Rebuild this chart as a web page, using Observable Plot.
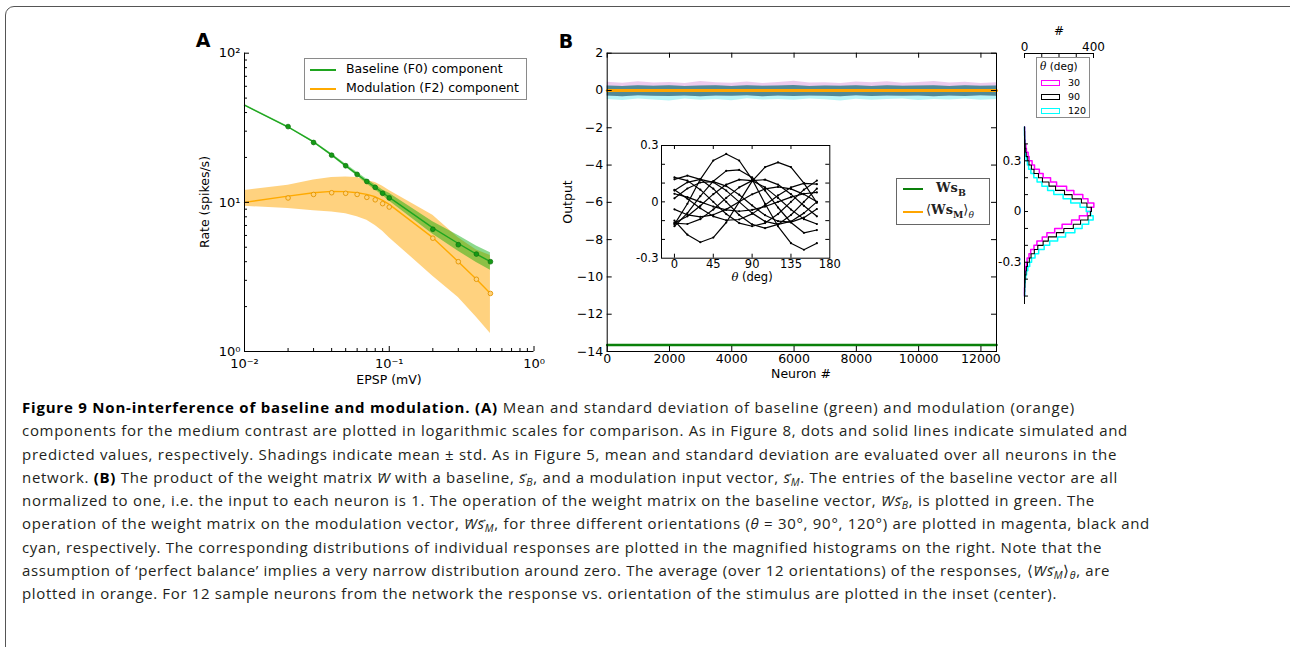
<!DOCTYPE html>
<html><head><meta charset="utf-8">
<script src="https://cdn.jsdelivr.net/npm/d3@7"></script>
<script src="https://cdn.jsdelivr.net/npm/@observablehq/plot@0.6"></script>
<style>
html,body{margin:0;padding:0;background:#fff;}
#fig{position:relative;width:1290px;height:647px;overflow:hidden;background:#fff;font-family:"DejaVu Sans",sans-serif;color:#000;}
#border{position:absolute;left:5px;top:6px;width:1320px;height:720px;border:1.6px solid #555;border-radius:9px;box-sizing:border-box;}
.abs{position:absolute;white-space:nowrap;}
.lbl{position:absolute;white-space:nowrap;transform:translate(-50%,-50%);font-size:12.5px;line-height:1;}
.pl{position:absolute;font-weight:bold;font-size:19px;line-height:1;transform:translate(-50%,-50%);}
.svgp{position:absolute;}
.box{position:absolute;border:1px solid #8a8a8a;background:#fff;box-sizing:border-box;}
.sw{position:absolute;height:0;}
#caption{position:absolute;left:22px;top:396px;font-family:"Open Sans",sans-serif;font-size:15px;line-height:23.25px;color:#231f20;}
.cl{display:block;white-space:nowrap;width:max-content;}
.cl b{color:#000;}
.v{position:relative;font-style:italic;}
.v::after{content:"\2192";position:absolute;left:0.08em;top:-0.62em;font-size:0.62em;font-style:normal;}
.cl sub{font-size:0.7em;vertical-align:-0.3em;line-height:0;}
.ser{font-family:"DejaVu Serif",serif;}
</style></head><body>
<div id="fig">
  <div id="border"></div>
  <div class="pl" style="left:203px;top:40px;">A</div>
  <div class="pl" style="left:566px;top:41px;">B</div>
  <div id="pA" class="svgp" style="left:180px;top:30px;"></div>
  <div id="pB" class="svgp" style="left:550px;top:30px;"></div>
  <div id="pIn" class="svgp" style="left:620px;top:130px;"></div>
  <div id="pHtop" class="svgp" style="left:990px;top:0px;"></div>
  <div id="pH" class="svgp" style="left:990px;top:20px;"></div>

  <div class="lbl" style="left:205px;top:202px;transform:translate(-50%,-50%) rotate(-90deg);">Rate (spikes/s)</div>
  <div class="lbl" style="left:389px;top:380px;">EPSP (mV)</div>
  <div class="lbl" style="left:568px;top:202px;transform:translate(-50%,-50%) rotate(-90deg);">Output</div>
  <div class="lbl" style="left:801px;top:374px;">Neuron #</div>
  <div class="lbl" style="left:752px;top:278px;font-size:11.5px;"><i class="ser">θ</i> (deg)</div>
  <div class="lbl" style="left:1059px;top:31px;font-size:12px;">#</div>

  <!-- legend A -->
  <div class="box" style="left:304px;top:58px;width:223px;height:42px;"></div>
  <div class="sw" style="left:310px;top:68.5px;width:26px;border-top:2px solid #1fa51f;"></div>
  <div class="sw" style="left:310px;top:87.5px;width:26px;border-top:2px solid #ffaa00;"></div>
  <div class="abs" style="left:346px;top:62px;font-size:12.5px;line-height:14px;">Baseline (F0) component</div>
  <div class="abs" style="left:346px;top:81px;font-size:12.5px;line-height:14px;">Modulation (F2) component</div>

  <!-- legend B -->
  <div class="box" style="left:896px;top:178px;width:94px;height:47px;border-color:#666;"></div>
  <div class="sw" style="left:903px;top:188px;width:20px;border-top:2.5px solid #0a800a;"></div>
  <div class="sw" style="left:903px;top:210.5px;width:20px;border-top:2.5px solid #ffa500;"></div>
  <div class="abs ser" style="left:936px;top:181px;font-size:13px;line-height:14px;color:#222;"><b>Ws<sub style="font-size:0.72em;">B</sub></b></div>
  <div class="abs ser" style="left:926px;top:203px;font-size:13px;line-height:14px;color:#222;">⟨<b>Ws<sub style="font-size:0.72em;">M</sub></b>⟩<sub style="font-size:0.7em;"><i>θ</i></sub></div>

  <!-- legend histogram -->
  <div class="box" style="left:1036px;top:57px;width:54px;height:61px;"></div>
  <div class="abs" style="left:1040px;top:60px;font-size:10.5px;line-height:13px;"><i class="ser">θ</i> (deg)</div>
  <div class="abs" style="left:1041px;top:79.5px;width:19px;height:6px;border:1.4px solid #ff00ff;box-sizing:border-box;"></div>
  <div class="abs" style="left:1041px;top:94px;width:19px;height:6px;border:1.4px solid #000;box-sizing:border-box;"></div>
  <div class="abs" style="left:1041px;top:108px;width:19px;height:6px;border:1.4px solid #00ffff;box-sizing:border-box;"></div>
  <div class="abs" style="left:1068px;top:77px;font-size:9.5px;line-height:12px;">30</div>
  <div class="abs" style="left:1068px;top:91px;font-size:9.5px;line-height:12px;">90</div>
  <div class="abs" style="left:1068px;top:105px;font-size:9.5px;line-height:12px;">120</div>

  <div id="caption">
    <div class="cl"><b>Figure 9 Non-interference of baseline and modulation. (A)</b> Mean and standard deviation of baseline (green) and modulation (orange)</div>
    <div class="cl">components for the medium contrast are plotted in logarithmic scales for comparison. As in Figure 8, dots and solid lines indicate simulated and</div>
    <div class="cl">predicted values, respectively. Shadings indicate mean ± std. As in Figure 5, mean and standard deviation are evaluated over all neurons in the</div>
    <div class="cl">network. <b>(B)</b> The product of the weight matrix <span class="v">W</span> with a baseline, <span class="v">s</span><sub><i>B</i></sub>, and a modulation input vector, <span class="v">s</span><sub><i>M</i></sub>. The entries of the baseline vector are all</div>
    <div class="cl">normalized to one, i.e. the input to each neuron is 1. The operation of the weight matrix on the baseline vector, <span class="v">W</span><span class="v">s</span><sub><i>B</i></sub>, is plotted in green. The</div>
    <div class="cl">operation of the weight matrix on the modulation vector, <span class="v">W</span><span class="v">s</span><sub><i>M</i></sub>, for three different orientations (<i>θ</i> = 30°, 90°, 120°) are plotted in magenta, black and</div>
    <div class="cl">cyan, respectively. The corresponding distributions of individual responses are plotted in the magnified histograms on the right. Note that the</div>
    <div class="cl">assumption of ‘perfect balance’ implies a very narrow distribution around zero. The average (over 12 orientations) of the responses, ⟨<span class="v">W</span><span class="v">s</span><sub><i>M</i></sub>⟩<sub><i>θ</i></sub>, are</div>
    <div class="cl">plotted in orange. For 12 sample neurons from the network the response vs. orientation of the stimulus are plotted in the inset (center).</div>
  </div>
</div>
<script>
// ---------- Panel A data ----------
const epspPred = [0.01,0.02,0.03,0.04,0.05,0.06,0.07,0.08,0.09,0.1,0.2,0.3,0.4,0.5];
const baselinePred = [44.8,32.0,25.4,20.8,17.6,15.4,13.8,12.6,11.6,10.8,6.75,5.3,4.5,4.0];
const baselineLo = [44.3,31.6,25.0,20.4,17.2,15.0,13.3,12.1,11.1,10.2,6.1,4.7,3.95,3.5];
const baselineHi = [45.3,32.4,25.8,21.2,18.1,15.9,14.3,13.1,12.1,11.5,7.4,6.0,5.1,4.6];
const modPred = [10.0,11.0,11.6,11.85,11.8,11.6,11.3,10.9,10.3,9.7,5.8,4.0,3.05,2.45];
const modLo = [9.4,9.1,8.8,8.6,8.4,8.0,7.6,7.0,6.4,5.8,3.2,2.3,1.7,1.32];
const modHi = [12.0,13.0,14.1,14.7,14.8,14.7,14.0,13.6,12.8,12.0,8.2,5.8,4.8,4.4];
const epspSim = [0.02,0.03,0.04,0.05,0.06,0.07,0.08,0.09,0.1,0.2,0.3,0.4,0.5];
const baselineSim = [32.2,25.2,20.7,17.6,15.4,13.8,12.6,11.5,10.7,6.6,5.2,4.5,4.0];
const modSim = [10.7,11.3,11.6,11.5,11.3,10.8,10.4,9.8,9.3,5.75,4.0,3.05,2.45];
const logTickLabels = {"0.01":"10⁻²","0.1":"10⁻¹","1":"10⁰","10":"10¹","100":"10²"};

// ---------- Panel B data ----------
const neuronTicks = [0,2000,4000,6000,8000,10000,12000];
const outputTicks = [-14,-12,-10,-8,-6,-4,-2,0,2];
const neuronSpan = [0,12500];
const baselineOutput = [-13.65,-13.65];   // W s_B
const meanModOutput = [0.0,0.0];          // <W s_M>_theta
const bandStep = 500;
const bandMagentaHi = [0.44,0.39,0.47,0.40,0.43,0.37,0.48,0.41,0.39,0.46,0.38,0.43,0.50,0.40,0.42,0.38,0.45,0.41,0.47,0.39,0.43,0.48,0.40,0.44,0.38,0.42];
const bandCoreHi = [0.24,0.22,0.26,0.23,0.25,0.21,0.24,0.26,0.22,0.25,0.23,0.24,0.27,0.22,0.24,0.23,0.26,0.21,0.25,0.23,0.24,0.26,0.22,0.25,0.23,0.24];
const bandCoreLo = [-0.30,-0.33,-0.28,-0.31,-0.32,-0.29,-0.34,-0.30,-0.31,-0.28,-0.33,-0.30,-0.32,-0.29,-0.31,-0.33,-0.28,-0.32,-0.30,-0.31,-0.29,-0.33,-0.30,-0.32,-0.28,-0.31];
const bandCyanLo = [-0.48,-0.54,-0.45,-0.51,-0.57,-0.46,-0.52,-0.49,-0.55,-0.44,-0.51,-0.48,-0.53,-0.46,-0.50,-0.56,-0.47,-0.52,-0.49,-0.45,-0.54,-0.48,-0.51,-0.46,-0.53,-0.49];

// ---------- Inset data (12 sample neurons vs orientation) ----------
const thetas = [0,15,30,45,60,75,90,105,120,135,150,165];
const insetNeurons = [
  [-0.12,-0.01,0.12,0.22,0.255,0.22,0.12,-0.01,-0.13,-0.22,-0.255,-0.22],
  [-0.10,-0.175,-0.215,-0.19,-0.11,0.0,0.11,0.185,0.21,0.185,0.10,-0.005],
  [-0.13,-0.06,0.03,0.11,0.165,0.17,0.13,0.06,-0.03,-0.11,-0.165,-0.15],
  [0.12,0.14,0.12,0.07,0.0,-0.07,-0.12,-0.14,-0.12,-0.07,0.0,0.07],
  [0.13,0.113,0.065,0.0,-0.065,-0.113,-0.13,-0.113,-0.065,0.0,0.065,0.113],
  [0.06,0.104,0.12,0.104,0.06,0.0,-0.06,-0.104,-0.12,-0.104,-0.06,0.0],
  [0.064,0.017,-0.034,-0.077,-0.098,-0.094,-0.064,-0.017,0.034,0.077,0.098,0.094],
  [0.043,0.025,0.0,-0.025,-0.043,-0.05,-0.043,-0.025,0.0,0.025,0.043,0.05],
  [-0.04,-0.069,-0.08,-0.069,-0.04,0.0,0.04,0.069,0.08,0.069,0.04,0.0],
  [-0.113,-0.077,-0.021,0.041,0.092,0.118,0.113,0.077,0.021,-0.041,-0.092,-0.118],
  [-0.113,-0.118,-0.092,-0.041,0.021,0.077,0.113,0.118,0.092,0.041,-0.021,-0.077],
  [0.019,0.071,0.103,0.108,0.084,0.038,-0.019,-0.071,-0.103,-0.108,-0.084,-0.038]
];

// ---------- Histogram data (counts per bin, bins of 0.025 from -0.5 to 0.5) ----------
const histBinStart = -0.5, histBinWidth = 0.025;
const histMagenta = [0,0,1,1,2,5,6,11,15,26,36,55,72,103,130,175,218,273,318,364,386,402,368,338,286,244,186,151,108,86,58,44,27,21,11,8,4,2,1,1];
const histBlack   = [0,1,2,3,4,8,11,17,28,38,57,77,108,138,185,228,283,325,368,382,388,362,330,276,232,180,142,104,81,55,40,26,19,10,7,4,2,1,1,0];
const histCyan    = [1,1,2,4,7,12,19,30,41,61,82,114,146,192,238,292,334,372,398,384,358,322,268,224,170,134,101,73,54,37,24,17,10,6,3,2,1,1,0,0];
const histCountTicks = [0,100,200,300,400];
const histValueTicks = [-0.5,-0.4,-0.3,-0.2,-0.1,0,0.1,0.2,0.3,0.4];

const green = "#1fa51f", orange = "#ffaa00";
const baseStyle = {fontFamily:"DejaVu Sans", fontSize:"12.5px", background:"transparent", color:"#000", overflow:"visible"};

// ===== Panel A =====
{
  const W=380,H=370,ml=64,mr=26.5,mt=22.7,mb=49, pw=W-ml-mr, ph=H-mt-mb;
  const pred = epspPred.map((x,i)=>({x,b:baselinePred[i],bLo:baselineLo[i],bHi:baselineHi[i],m:modPred[i],mLo:modLo[i],mHi:modHi[i]}));
  const sim = epspSim.map((x,i)=>({x,b:baselineSim[i],m:modSim[i]}));
  const minorY = [2,3,4,5,6,7,8,9].flatMap(k=>[k,k*10]);
  const minorX = [2,3,4,5,6,7,8,9].flatMap(k=>[k/100,k/10]);
  const p = Plot.plot({
    width:W,height:H,marginLeft:ml,marginRight:mr,marginTop:mt,marginBottom:mb,
    x:{type:"log",domain:[0.01,1]}, y:{type:"log",domain:[1,100]},
    style:{...baseStyle,fontSize:"13px"},
    marks:[
      Plot.areaY(pred,{x:"x",y1:"mLo",y2:"mHi",fill:"#ffa500",fillOpacity:0.5}),
      Plot.areaY(pred,{x:"x",y1:"bLo",y2:"bHi",fill:"#00aa00",fillOpacity:0.45}),
      Plot.line(pred,{x:"x",y:"m",stroke:orange,strokeWidth:1.4}),
      Plot.line(pred,{x:"x",y:"b",stroke:green,strokeWidth:1.4}),
      Plot.dot(sim,{x:"x",y:"m",r:2.3,fill:"#ffd27a",stroke:"#e39400",strokeWidth:0.9}),
      Plot.dot(sim,{x:"x",y:"b",r:2.4,fill:"#159a15",stroke:"#0e700e",strokeWidth:0.7}),
      Plot.ruleX([0.01],{stroke:"#000"}),
      Plot.ruleY([1],{stroke:"#000"}),
      Plot.tickY([1,10,100],{y:d=>d,insetRight:pw-5}),
      Plot.tickY(minorY,{y:d=>d,insetRight:pw-3}),
      Plot.tickX([0.01,0.1,1],{x:d=>d,insetTop:ph-5}),
      Plot.tickX(minorX,{x:d=>d,insetTop:ph-3}),
      Plot.axisY({ticks:[1,10,100],tickSize:0,tickPadding:4,tickFormat:d=>logTickLabels[String(d)],label:null}),
      Plot.axisX({ticks:[0.01,0.1,1],tickSize:0,tickPadding:7,tickFormat:d=>logTickLabels[String(d)],label:null})
    ]
  });
  document.getElementById("pA").appendChild(p);
}

// ===== Panel B =====
{
  const W=470,H=370,ml=56.7,mr=24,mt=22.7,mb=49, pw=W-ml-mr, ph=H-mt-mb;
  const band = bandMagentaHi.map((v,i)=>({x:i*bandStep,up:v,ch:bandCoreHi[i],cl:bandCoreLo[i],lo:bandCyanLo[i]}));
  const baseRows = neuronSpan.map((x,i)=>({x,y:baselineOutput[i]}));
  const avgRows = neuronSpan.map((x,i)=>({x,y:meanModOutput[i]}));
  const p = Plot.plot({
    width:W,height:H,marginLeft:ml,marginRight:mr,marginTop:mt,marginBottom:mb,
    x:{domain:[0,12500]}, y:{domain:[-14,2]},
    style:baseStyle,
    marks:[
      Plot.areaY(band,{x:"x",y1:"lo",y2:"ch",fill:"#33e0e8",fillOpacity:0.35}),
      Plot.areaY(band,{x:"x",y1:"cl",y2:"up",fill:"#c050c0",fillOpacity:0.3}),
      Plot.areaY(band,{x:"x",y1:"cl",y2:"ch",fill:"#3f8088",fillOpacity:0.85}),
      Plot.line(avgRows,{x:"x",y:"y",stroke:"#ffa500",strokeWidth:3}),
      Plot.line(baseRows,{x:"x",y:"y",stroke:"#0a800a",strokeWidth:2.6}),
      Plot.frame({stroke:"#000"}),
      Plot.tickY(outputTicks,{y:d=>d,insetRight:pw-5}),
      Plot.tickY(outputTicks,{y:d=>d,insetLeft:pw-5}),
      Plot.tickX(neuronTicks,{x:d=>d,insetTop:ph-5}),
      Plot.tickX(neuronTicks,{x:d=>d,insetBottom:ph-5}),
      Plot.axisY({ticks:outputTicks,tickSize:0,tickPadding:4,label:null}),
      Plot.axisX({ticks:neuronTicks,tickSize:0,tickPadding:3,tickFormat:d=>String(d),label:null})
    ]
  });
  document.getElementById("pB").appendChild(p);
}

// ===== Inset =====
{
  const W=230,H=160,ml=41,mr=20.7,mt=15,mb=32.3, pw=W-ml-mr, ph=H-mt-mb;
  const rows = insetNeurons.flatMap((vals,k)=>vals.map((v,i)=>({n:k,t:thetas[i],v})));
  const fmt = d => d===0 ? "0" : (d<0?"-":"")+Math.abs(d).toFixed(1);
  const p = Plot.plot({
    width:W,height:H,marginLeft:ml,marginRight:mr,marginTop:mt,marginBottom:mb,
    x:{domain:[-15,180]}, y:{domain:[-0.3,0.3]},
    style:{...baseStyle,fontSize:"11.5px"},
    marks:[
      Plot.line(rows,{x:"t",y:"v",z:"n",stroke:"#000",strokeWidth:1.2}),
      Plot.dot(rows,{x:"t",y:"v",r:1.1,fill:"#000"}),
      Plot.frame({stroke:"#000"}),
      Plot.tickX([0,45,90,135],{x:d=>d,insetTop:ph-4}),
      Plot.tickX([0,45,90,135],{x:d=>d,insetBottom:ph-4}),
      Plot.tickY([-0.2,-0.1,0,0.1,0.2],{y:d=>d,insetRight:pw-4}),
      Plot.tickY([-0.2,-0.1,0,0.1,0.2],{y:d=>d,insetLeft:pw-4}),
      Plot.axisX({ticks:[0,45,90,135,180],tickSize:0,tickPadding:2,tickFormat:d=>String(d),label:null}),
      Plot.axisY({ticks:[-0.3,0,0.3],tickSize:0,tickPadding:3,tickFormat:fmt,label:null})
    ]
  });
  document.getElementById("pIn").appendChild(p);
}

// ===== Histogram top count axis =====
{
  const p = Plot.plot({
    width:120,height:58,marginLeft:34,marginRight:17,marginTop:53,marginBottom:0,
    x:{domain:[0,400]}, y:{domain:[0,1],axis:null},
    style:{...baseStyle,fontSize:"12px"},
    marks:[
      Plot.ruleY([1],{x1:0,x2:400,stroke:"#000"}),
      Plot.ruleX(histCountTicks,{x:d=>d,y1:1,y2:0,stroke:"#000"}),
      Plot.axisX({anchor:"top",ticks:[0,400],tickSize:0,tickPadding:3,tickFormat:d=>String(d),label:null})
    ]
  });
  document.getElementById("pHtop").appendChild(p);
}

// ===== Histograms =====
{
  const W=120,H=300,ml=34,mr=17,mt=106.5,mb=16, pw=W-ml-mr;
  const outline = (counts,name) => {
    const pts=[{s:name,x:0,y:histBinStart}];
    counts.forEach((c,i)=>{
      const e0=histBinStart+i*histBinWidth, e1=e0+histBinWidth;
      pts.push({s:name,x:c,y:e0},{s:name,x:c,y:e1});
    });
    pts.push({s:name,x:0,y:histBinStart+counts.length*histBinWidth});
    return pts;
  };
  const fmt = d => d===0 ? "0" : (d<0?"-":"")+Math.abs(d).toFixed(1);
  const p = Plot.plot({
    width:W,height:H,marginLeft:ml,marginRight:mr,marginTop:mt,marginBottom:mb,
    x:{domain:[0,400],axis:null}, y:{domain:[-0.55,0.5]},
    style:{...baseStyle,fontSize:"12px"},
    marks:[
      Plot.line(outline(histMagenta,"m"),{x:"x",y:"y",stroke:"#ff00ff",strokeWidth:1.5}),
      Plot.line(outline(histCyan,"c"),{x:"x",y:"y",stroke:"#00ffff",strokeWidth:1.5}),
      Plot.line(outline(histBlack,"k"),{x:"x",y:"y",stroke:"#000",strokeWidth:1.1}),
      Plot.ruleX([0],{stroke:"#000"}),
      Plot.tickY(histValueTicks,{y:d=>d,insetRight:pw-4}),
      Plot.axisY({ticks:[-0.3,0,0.3],tickSize:0,tickPadding:3,tickFormat:fmt,label:null})
    ]
  });
  document.getElementById("pH").appendChild(p);
}

// ===== Caption line fitting =====
{
  const targets = [1053,1106,1095,1096,1073,1128,1080,1088,1035];
  document.querySelectorAll("#caption .cl").forEach((el,i)=>{
    const w = el.getBoundingClientRect().width;
    const n = el.textContent.length;
    el.style.letterSpacing = ((targets[i]-w)/n).toFixed(3)+"px";
  });
}
</script>
</body></html>
